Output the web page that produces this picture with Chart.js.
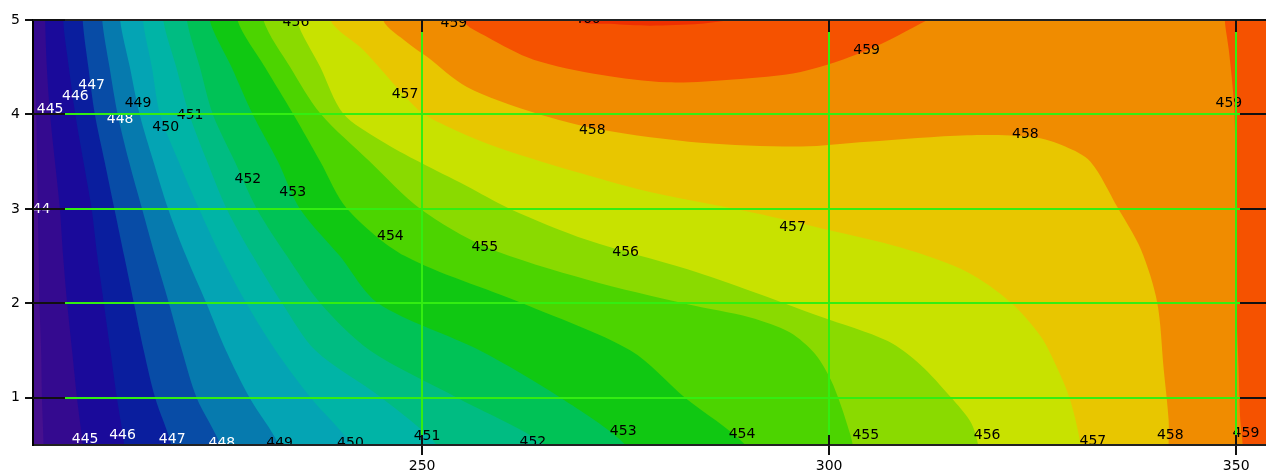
<!DOCTYPE html>
<html lang="en">
<head>
    <meta charset="UTF-8">
    <title>Contour plot</title>
    <script src="https://cdn.jsdelivr.net/npm/chart.js"></script>
    <style>
        body {
            margin: 0;
            background: #fff;
            overflow: hidden;
        }
        .wrap {
            width: 1266px;
            height: 472px;
            overflow: hidden;
        }
        canvas {
            display: block;
        }
    </style>
</head>
<body>
    <div class="wrap"><canvas id="contourChart" width="1272" height="472"></canvas></div>
    <script>
        // axis ticks
        const xTicks = [250, 300, 350];
        const yTicks = [1, 2, 3, 4, 5];

        // left-hand contour lines: x position of each line at these y rows
        const rowY = [5, 4.5, 4, 3.5, 3, 2.5, 2, 1.5, 1, 0.5];
        const c444 = [202.3, 202.4, 202.6, 202.7, 202.8, 202.9, 203.0, 203.2, 203.3, 203.5];
        const c445 = [203.7, 203.9, 204.3, 204.9, 205.5, 205.9, 206.4, 207.0, 207.6, 208.3];
        const c446 = [205.9, 206.6, 207.4, 208.4, 209.4, 210.1, 210.9, 211.7, 212.5, 213.4];
        const c447 = [208.3, 209.0, 209.8, 211.0, 212.2, 213.4, 214.6, 215.8, 217.2, 219.2];
        const c448 = [210.7, 211.6, 212.6, 214.0, 215.6, 217.2, 218.9, 220.5, 222.3, 225.2];
        const c449 = [212.9, 214.1, 215.3, 217.0, 218.8, 221.0, 223.5, 225.9, 228.8, 232.4];
        const c450 = [215.7, 216.8, 217.8, 220.1, 222.6, 225.3, 228.4, 232.0, 236.3, 241.3];
        const c451 = [218.2, 219.8, 221.4, 223.6, 226.0, 229.2, 232.8, 236.9, 245.0, 251.8];
        const c452 = [221.1, 222.7, 224.3, 227.0, 229.7, 233.4, 237.5, 243.6, 254.3, 265.1];
        const c453 = [223.9, 226.6, 229.2, 232.3, 235.0, 239.9, 244.6, 257.1, 267.0, 275.0];
        const c454 = [227.3, 230.7, 234.2, 237.5, 240.8, 247.9, 262.3, 275.6, 282.3, 289.7];

        // bending contour lines, read point by point
        const c455x = [230.5, 233.8, 237.5, 243.6, 249.8, 257.8, 270.3, 282.6, 290.3, 295.2, 298.3, 300.2, 301.4, 302.2, 302.9];
        const c455y = [5.0, 4.50, 4.01, 3.50, 3.00, 2.60, 2.25, 1.99, 1.85, 1.69, 1.46, 1.19, 0.93, 0.72, 0.5];
        const c456x = [234.6, 237.5, 240.3, 244.8, 249.8, 255.3, 260.8, 270.3, 282.6, 290.7, 298.9, 307.2, 311.2, 314.9, 317.4, 318.3];
        const c456y = [5.0, 4.50, 4.01, 3.73, 3.49, 3.25, 3.00, 2.67, 2.36, 2.12, 1.86, 1.60, 1.35, 1.01, 0.74, 0.5];
        const c457x = [238.7, 242.8, 247.7, 250.1, 254.7, 260.0, 269.4, 278.4, 290.7, 299.8, 308.8, 317.0, 322.3, 326.0, 328.1, 329.6, 330.9];
        const c457y = [5.0, 4.68, 4.21, 4.01, 3.81, 3.63, 3.38, 3.17, 2.96, 2.78, 2.59, 2.33, 2.01, 1.65, 1.30, 0.98, 0.5];
        const c458x = [245.2, 248.2, 250.6, 255.5, 263.7, 271.9, 284.2, 296.5, 304.7, 317.0, 325.1, 329.0, 332.1, 335.4, 338.3, 340.3, 341.1, 341.7, 341.7];
        const c458y = [5.0, 4.76, 4.61, 4.29, 4.02, 3.84, 3.70, 3.66, 3.71, 3.78, 3.76, 3.66, 3.50, 3.02, 2.57, 2.01, 1.30, 0.77, 0.5];
        const c459ax = [255.0, 258.0, 263.7, 271.9, 280.1, 288.2, 296.5, 304.7, 312.1];
        const c459ay = [5.0, 4.82, 4.58, 4.42, 4.34, 4.37, 4.45, 4.68, 5.0];
        const c459bx = [348.6, 349.1, 349.7, 349.9, 350.0, 350.0, 350.3, 350.5, 350.8];
        const c459by = [5.0, 4.68, 4.15, 3.63, 2.89, 2.04, 1.30, 0.77, 0.5];
        const c460x = [269.1, 273.1, 278.0, 284.2, 287.9];
        const c460y = [5.0, 4.96, 4.94, 4.96, 5.0];

        // contour labels
        const labelText = ['444', '445', '446', '447', '448', '449', '450', '451', '452', '453', '454', '455', '456', '457', '457', '458', '458', '459', '459', '456', '459', '460',
            '445', '446', '447', '448', '449', '450', '451', '452', '453', '454', '455', '456', '457', '458', '459'];
        const labelX = [202.7, 204.3, 207.4, 209.4, 212.9, 215.1, 218.5, 221.5, 228.6, 234.1, 246.1, 257.7, 275.0, 295.5, 247.9, 270.9, 324.1, 304.6, 349.1, 234.5, 253.9, 270.3,
            208.6, 213.2, 219.3, 225.4, 232.5, 241.2, 250.6, 263.6, 274.7, 289.3, 304.5, 319.4, 332.4, 341.9, 351.2];
        const labelY = [3.00, 4.05, 4.19, 4.31, 3.95, 4.12, 3.86, 3.99, 3.31, 3.18, 2.71, 2.59, 2.54, 2.80, 4.21, 3.83, 3.79, 4.68, 4.12, 4.98, 4.96, 5.01,
            0.56, 0.60, 0.56, 0.52, 0.52, 0.52, 0.59, 0.53, 0.645, 0.61, 0.60, 0.60, 0.54, 0.60, 0.62];

        // band colours: below 444, then one per level upwards
        const baseColor = '#46108e';
        const levelColors = {
            444: '#340a8f', 445: '#1a0a9a', 446: '#0a1e9e', 447: '#084ca6', 448: '#067aae',
            449: '#04a4b4', 450: '#00b4a6', 451: '#00bc82', 452: '#00c256', 453: '#10c812',
            454: '#4cd400', 455: '#8ada00', 456: '#c8e200', 457: '#e8c600', 458: '#f08c00',
            459: '#f55200', 460: '#ee3000'
        };
        const gridGreen = '#33ee11';
        const fontFamily = '"DejaVu Sans", sans-serif';

        const X_OUT = 360, TOP_OUT = 5.4, BOT_OUT = 0.3;

        function toPoints(xs, ys) {
            return xs.map((x, i) => ({ x: x, y: ys[i] }));
        }
        // region to the right of a line that runs from top edge to bottom edge
        function openRight(xs, ys) {
            const pts = toPoints(xs, ys);
            const first = pts[0], last = pts[pts.length - 1];
            return [{ x: X_OUT, y: TOP_OUT }, { x: first.x, y: TOP_OUT }, ...pts,
                { x: last.x, y: BOT_OUT }, { x: X_OUT, y: BOT_OUT }];
        }
        // region between a line and the top edge
        function closeTop(xs, ys) {
            const pts = toPoints(xs, ys);
            const first = pts[0], last = pts[pts.length - 1];
            return [{ x: last.x, y: TOP_OUT }, { x: first.x, y: TOP_OUT }, ...pts];
        }

        const regions = [
            [444, openRight(c444, rowY)],
            [445, openRight(c445, rowY)],
            [446, openRight(c446, rowY)],
            [447, openRight(c447, rowY)],
            [448, openRight(c448, rowY)],
            [449, openRight(c449, rowY)],
            [450, openRight(c450, rowY)],
            [451, openRight(c451, rowY)],
            [452, openRight(c452, rowY)],
            [453, openRight(c453, rowY)],
            [454, openRight(c454, rowY)],
            [455, openRight(c455x, c455y)],
            [456, openRight(c456x, c456y)],
            [457, openRight(c457x, c457y)],
            [458, openRight(c458x, c458y)],
            [459, closeTop(c459ax, c459ay)],
            [459, openRight(c459bx, c459by)],
            [460, closeTop(c460x, c460y)]
        ];

        const datasets = regions.map(([level, pts], i) => ({
            label: String(level),
            data: pts,
            showLine: true,
            fill: 'shape',
            backgroundColor: levelColors[level],
            borderWidth: 0,
            pointRadius: 0,
            tension: 0.3,
            order: regions.length - i
        }));

        const areaBackground = {
            id: 'areaBackground',
            beforeDatasetsDraw(chart) {
                const { ctx, chartArea: a } = chart;
                ctx.save();
                ctx.fillStyle = baseColor;
                ctx.fillRect(a.left, a.top, a.right - a.left, a.bottom - a.top);
                ctx.restore();
            }
        };

        const contourLabels = {
            id: 'contourLabels',
            afterDatasetsDraw(chart) {
                const { ctx, chartArea: a, scales } = chart;
                ctx.save();
                ctx.beginPath();
                ctx.rect(a.left, a.top, a.right - a.left, a.bottom - a.top);
                ctx.clip();
                ctx.font = '14px ' + fontFamily;
                ctx.textAlign = 'center';
                ctx.textBaseline = 'middle';
                labelText.forEach((t, i) => {
                    ctx.fillStyle = Number(t) < 449 ? '#ffffff' : '#000000';
                    ctx.fillText(t, scales.x.getPixelForValue(labelX[i]), scales.y.getPixelForValue(labelY[i]));
                });
                ctx.restore();
            }
        };

        // black tick marks that reach into the plot
        const innerTicks = {
            id: 'innerTicks',
            afterDraw(chart) {
                const { ctx, chartArea: a, scales } = chart;
                ctx.save();
                ctx.strokeStyle = '#111';
                ctx.lineWidth = 2;
                ctx.beginPath();
                yTicks.forEach(v => {
                    const py = Math.round(scales.y.getPixelForValue(v));
                    ctx.moveTo(a.left, py); ctx.lineTo(a.left + 32, py);
                    ctx.moveTo(a.right - 32, py); ctx.lineTo(a.right, py);
                });
                xTicks.forEach(v => {
                    const px = Math.round(scales.x.getPixelForValue(v));
                    ctx.moveTo(px, a.top); ctx.lineTo(px, a.top + 12);
                    ctx.moveTo(px, a.bottom - 10); ctx.lineTo(px, a.bottom);
                });
                ctx.stroke();
                ctx.restore();
            }
        };

        new Chart(document.getElementById('contourChart'), {
            type: 'scatter',
            data: { datasets: datasets },
            plugins: [areaBackground, contourLabels, innerTicks],
            options: {
                responsive: false,
                animation: false,
                events: [],
                layout: { padding: { top: 20, right: 0, bottom: 0, left: 0 } },
                plugins: {
                    legend: { display: false },
                    tooltip: { enabled: false }
                },
                scales: {
                    x: {
                        type: 'linear',
                        min: 202.2,
                        max: 354.4,
                        afterBuildTicks: s => { s.ticks = xTicks.map(v => ({ value: v })); },
                        afterFit: s => { s.height = 27; },
                        grid: { color: gridGreen, lineWidth: 2, z: 1, tickLength: 10, tickColor: '#111', tickWidth: 2 },
                        border: { color: '#222', width: 2, z: 1 },
                        ticks: { color: '#000', padding: 3, maxRotation: 0, font: { family: fontFamily, size: 14 } }
                    },
                    y: {
                        type: 'linear',
                        min: 0.5,
                        max: 5,
                        afterBuildTicks: s => { s.ticks = yTicks.map(v => ({ value: v })); },
                        afterFit: s => { s.width = 33; },
                        grid: {
                            color: c => (c.tick && c.tick.value === 5) ? '#222' : gridGreen,
                            lineWidth: 2, z: 1, tickLength: 8, tickColor: '#111', tickWidth: 2
                        },
                        border: { color: '#000', width: 2, z: 1 },
                        ticks: { color: '#000', padding: 5, font: { family: fontFamily, size: 14 } }
                    }
                }
            }
        });
    </script>
</body>
</html>
